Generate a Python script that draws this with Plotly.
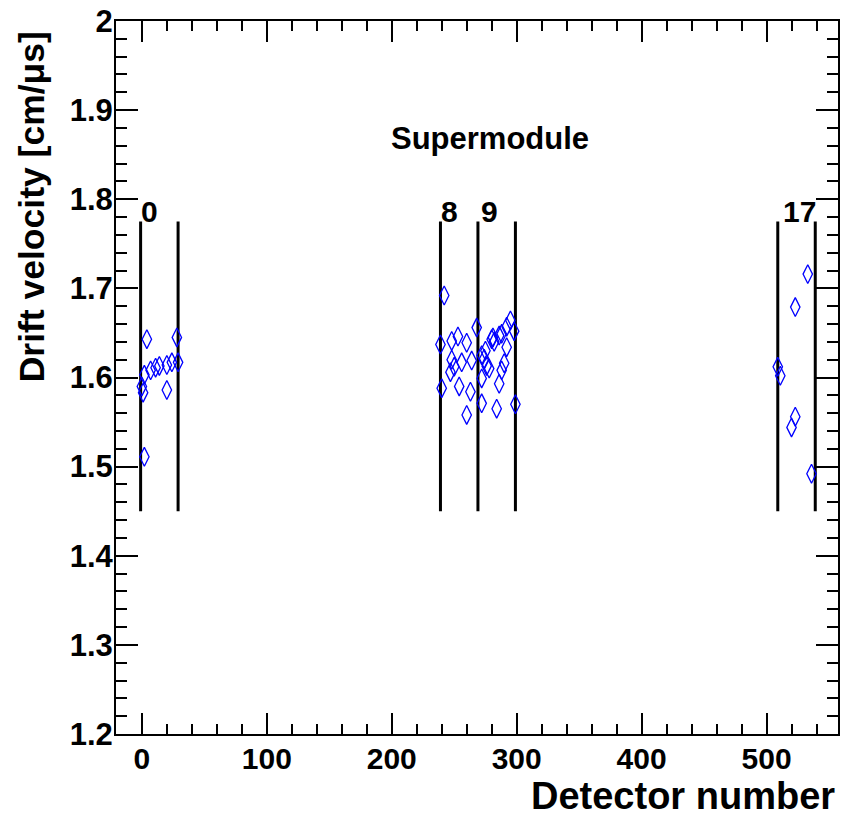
import plotly.graph_objects as go

# ---------------- data ----------------
sm0_x = [4, 28, 29, 2, 7, 11, 14, 20, 24, 1, 0, 20, 2]
sm0_y = [1.643, 1.645, 1.617, 1.603, 1.608, 1.611, 1.613, 1.614, 1.617, 1.583, 1.590, 1.586, 1.511]

sm89_x = [242, 239, 240, 248, 253, 260, 248, 250, 256, 264, 247, 254, 263, 260, 268, 272,
          272, 272, 274, 276, 278, 280, 282, 286, 288, 292, 295, 298, 292, 290, 288, 286,
          284, 299, 275, 281]
sm89_y = [1.692, 1.637, 1.588, 1.641, 1.646, 1.639, 1.620, 1.612, 1.617, 1.619, 1.606, 1.590,
          1.584, 1.558, 1.656, 1.571, 1.599, 1.625, 1.621, 1.613, 1.610, 1.643, 1.640, 1.647,
          1.649, 1.657, 1.664, 1.652, 1.634, 1.616, 1.608, 1.593, 1.565, 1.570, 1.630, 1.645]

sm17_x = [533, 523, 509, 511, 523, 520, 536]
sm17_y = [1.716, 1.679, 1.612, 1.602, 1.556, 1.544, 1.492]

boundary_x = [-1, 29, 239, 269, 299, 509, 539]
boundary_y = [1.45, 1.775]

sm_labels = ["0", "8", "9", "17"]
sm_label_x = [6.5, 246.5, 278, 526]
sm_label_y = 1.786

title_text = "Supermodule"
title_x = 278.7
title_y = 1.868

x_tickvals = [0, 100, 200, 300, 400, 500]
y_tickvals = [1.2, 1.3, 1.4, 1.5, 1.6, 1.7, 1.8, 1.9, 2.0]
y_ticktext = ["1.2", "1.3", "1.4", "1.5", "1.6", "1.7", "1.8", "1.9", "2"]

FONT = "Liberation Sans, Arial, sans-serif"

fig = go.Figure()

# vertical supermodule boundary lines
lx, ly = [], []
for bx in boundary_x:
    lx += [bx, bx, None]
    ly += [boundary_y[0], boundary_y[1], None]
fig.add_trace(go.Scatter(x=lx, y=ly, mode="lines",
                         line=dict(color="black", width=3), hoverinfo="skip",
                         showlegend=False))

all_x = sm0_x + sm89_x + sm17_x
all_y = sm0_y + sm89_y + sm17_y
fig.add_trace(go.Scatter(x=all_x, y=all_y, mode="markers",
                         marker=dict(symbol="diamond-tall-open", size=13.5,
                                     color="#0000ff", line=dict(color="#0000ff", width=1.3)),
                         showlegend=False))

annotations = []
for lab, x in zip(sm_labels, sm_label_x):
    annotations.append(dict(x=x, y=sm_label_y, xref="x", yref="y", text=lab,
                            showarrow=False, xanchor="center", yanchor="middle",
                            font=dict(family=FONT, size=30, color="black", weight="bold")))
annotations.append(dict(x=title_x, y=title_y, xref="x", yref="y", text=title_text,
                        showarrow=False, xanchor="center", yanchor="middle",
                        font=dict(family=FONT, size=31, color="black", weight="bold")))
annotations.append(dict(x=-0.116, y=0.988, xref="paper", yref="paper",
                        text="Drift velocity [cm/\u03bcs]", textangle=-90,
                        showarrow=False, xanchor="center", yanchor="top",
                        font=dict(family=FONT, size=35.5, color="black", weight="bold")))
annotations.append(dict(x=0.997, y=-0.1176, xref="paper", yref="paper",
                        text="Detector number", showarrow=False,
                        xanchor="right", yanchor="bottom", borderpad=0,
                        font=dict(family=FONT, size=38, color="black", weight="bold")))

axis_common = dict(showgrid=False, zeroline=False, showline=True, linecolor="black",
                   linewidth=2, mirror="ticks", ticks="inside", tickcolor="black",
                   tickwidth=1.5)

fig.update_layout(
    width=844, height=819,
    margin=dict(l=116, r=4, t=20, b=85),
    paper_bgcolor="white", plot_bgcolor="white",
    annotations=annotations,
    xaxis=dict(range=[-20.7, 557.2], tickvals=x_tickvals, ticklen=21,
               minor=dict(dtick=20, ticklen=10, ticks="inside", tickcolor="black",
                          tickwidth=1.5),
               tickfont=dict(family=FONT, size=30, color="black", weight="bold"),
               ticklabelstandoff=-3,
               **axis_common),
    yaxis=dict(range=[1.2, 2.0], tickvals=y_tickvals, ticktext=y_ticktext, ticklen=22,
               minor=dict(dtick=0.02, ticklen=11, ticks="inside", tickcolor="black",
                          tickwidth=1.5),
               tickfont=dict(family=FONT, size=31, color="black", weight="bold"),
               ticklabelstandoff=-5,
               **axis_common),
)

fig.write_html("out.html")
